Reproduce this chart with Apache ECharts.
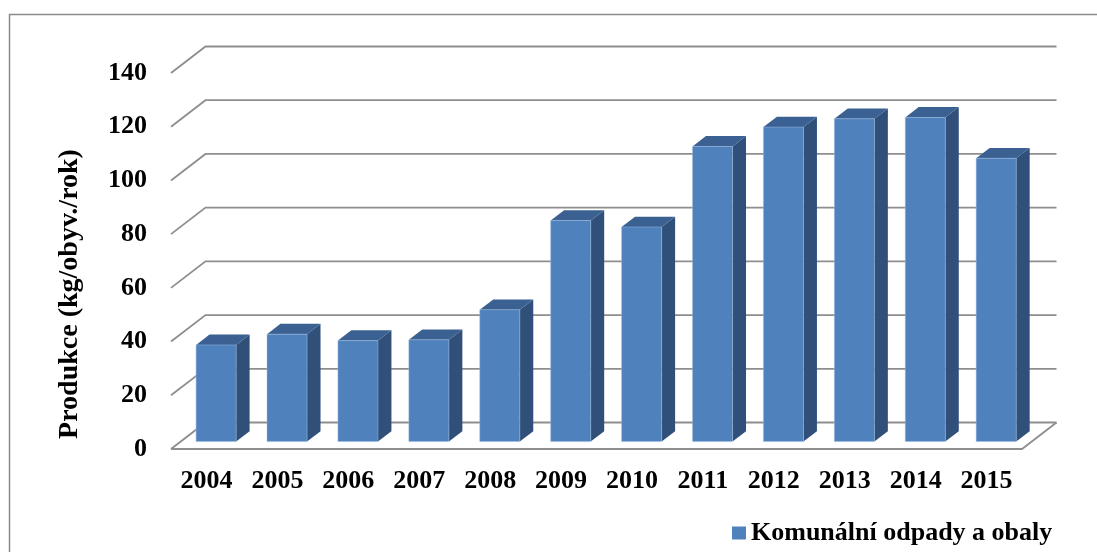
<!DOCTYPE html>
<html>
<head>
<meta charset="utf-8">
<script src="https://cdn.jsdelivr.net/npm/echarts@6/dist/echarts.min.js"></script>
<style>
html,body{margin:0;padding:0;background:#fff;}
#chart{width:1097px;height:552px;}
</style>
</head>
<body>
<div id="chart"></div>
<script>
// ---- data ----
const categories = ['2004','2005','2006','2007','2008','2009','2010','2011','2012','2013','2014','2015'];
const values = [36.0, 40.0, 37.6, 37.9, 49.1, 82.3, 79.9, 109.9, 117.1, 120.2, 120.7, 105.5];
const yTicks = [0, 20, 40, 60, 80, 100, 120, 140];
const seriesName = 'Komunální odpady a obaly';
const yTitle = 'Produkce (kg/obyv./rok)';

// ---- presentation ----
const DX = 34.5, DY = -26.5;      // depth offset of back wall
const F1 = 0.28;                  // depth fraction of bar front face
const FD = 0.39;                  // bar depth fraction
const BW = 0.565;                 // bar width as fraction of band
const gridColor = '#8e8e8e';
const cFront = '#4F81BD', cSide = '#30507A', cTop = '#3A6192';
const font = '"Liberation Serif","Times New Roman",serif';

const chart = echarts.init(document.getElementById('chart'));

function frameItem(params, api) {
  const v = api.value(1);
  const cs = params.coordSys;
  const y = api.coord([0, v])[1];
  const x0 = cs.x, x1 = cs.x + cs.width;
  const style = {stroke: gridColor, lineWidth: 1.8, fill: null};
  const children = [
    {type: 'polyline', shape: {points: [[x0, y], [x0 + DX, y + DY], [x1 + DX, y + DY]]}, style: style}
  ];
  if (v === 0) {
    children.push({type: 'polyline', shape: {points: [[x0, y], [x1, y], [x1 + DX, y + DY]]}, style: style});
  }
  return {type: 'group', children: children};
}

function barItem(params, api) {
  const i = api.value(0), v = api.value(1);
  const base = api.coord([i, 0]);
  const topP = api.coord([i, v]);
  const band = api.size([1, 0])[0];
  const w = band * BW;
  const left = base[0] - w / 2 + F1 * DX;
  const right = left + w;
  const bottom = base[1] + F1 * DY;
  const top = topP[1] + F1 * DY;
  const bdx = FD * DX, bdy = FD * DY;
  return {
    type: 'group',
    children: [
      {type: 'polygon', shape: {points: [[right, bottom], [right + bdx, bottom + bdy], [right + bdx, top + bdy], [right, top]]},
        style: {fill: cSide}},
      {type: 'polygon', shape: {points: [[left, top], [left + bdx, top + bdy], [right + bdx, top + bdy], [right, top]]},
        style: {fill: cTop}},
      {type: 'rect', shape: {x: left, y: top, width: w, height: bottom - top},
        style: {fill: cFront, stroke: 'rgba(160,190,225,0.6)', lineWidth: 0.8}}
    ]
  };
}

chart.setOption({
  animation: false,
  backgroundColor: '#fff',
  graphic: [
    {
      type: 'rect', shape: {x: 9.5, y: 14.5, width: 1200, height: 700},
      style: {fill: null, stroke: '#8a8a8a', lineWidth: 1.5}, silent: true, z: -10
    },
    {
      type: 'text', x: 70, y: 294, rotation: Math.PI / 2, silent: true,
      style: {text: yTitle, fontFamily: font, fontWeight: 'bold', fontSize: 28, fill: '#000',
        align: 'center', verticalAlign: 'middle'}
    }
  ],
  grid: {left: 171, right: 75, top: 73, bottom: 103},
  legend: {
    left: 727, top: 515,
    icon: 'rect', itemWidth: 14, itemHeight: 13, itemGap: 8,
    textStyle: {fontFamily: font, fontWeight: 'bold', fontSize: 26, color: '#000'},
    data: [{name: seriesName, itemStyle: {color: cFront}}]
  },
  xAxis: {
    type: 'category', data: categories,
    axisLine: {show: false}, axisTick: {show: false}, splitLine: {show: false},
    axisLabel: {fontFamily: font, fontWeight: 'bold', fontSize: 26, color: '#000', margin: 19}
  },
  yAxis: {
    type: 'value', min: 0, max: 140, interval: 20,
    axisLine: {show: false}, axisTick: {show: false}, splitLine: {show: false},
    axisLabel: {fontFamily: font, fontWeight: 'bold', fontSize: 26, color: '#000', margin: 24}
  },
  series: [
    {
      type: 'custom', name: 'frame', clip: false, silent: true, z: 1,
      renderItem: frameItem,
      data: yTicks.map(v => [0, v])
    },
    {
      type: 'custom', name: seriesName, clip: false, z: 2,
      itemStyle: {color: cFront},
      renderItem: barItem,
      data: values.map((v, i) => [i, v])
    }
  ]
});
</script>
</body>
</html>
